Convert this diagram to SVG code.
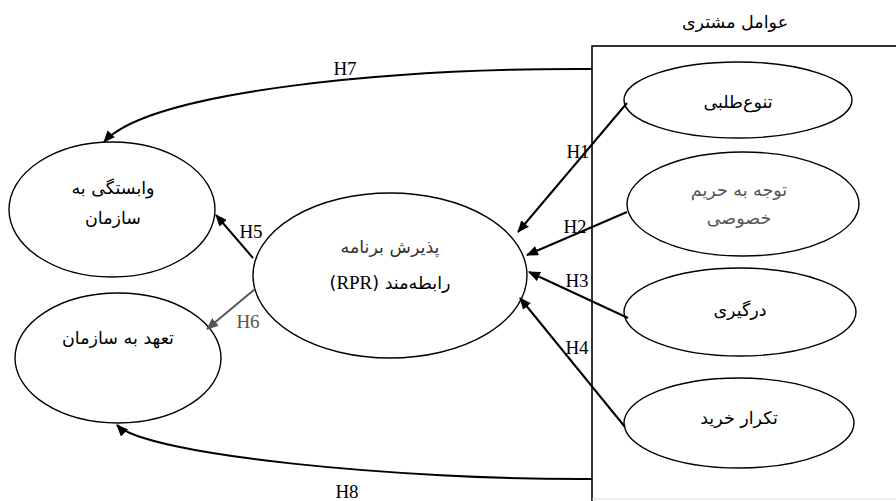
<svg xmlns="http://www.w3.org/2000/svg" width="896" height="501" viewBox="0 0 896 501">
<defs>
<marker id="arr" viewBox="0 0 12 10" refX="11" refY="5" markerWidth="12" markerHeight="10" markerUnits="userSpaceOnUse" orient="auto">
<path d="M0,0 L12,5 L0,10 Z" fill="#000"/>
</marker>
<marker id="arrg" viewBox="0 0 12 10" refX="11" refY="5" markerWidth="12" markerHeight="10" markerUnits="userSpaceOnUse" orient="auto">
<path d="M0,0 L12,5 L0,10 Z" fill="#555"/>
</marker>
</defs>
<style>
.node ellipse{fill:#fff;stroke:#000;stroke-width:1.4}
.fa{font-family:"DejaVu Sans","Noto Sans",sans-serif;font-size:17.5px;fill:#000;text-anchor:middle}
.lat{font-family:"Liberation Serif","Times New Roman",serif;font-size:19px}
.lab{font-family:"Liberation Serif","Times New Roman",serif;font-size:19px;fill:#000;text-anchor:middle}
.edge{fill:none;stroke:#000;stroke-width:2}
</style>
<rect width="896" height="501" fill="#fff"/>

<g id="group-customer-factors">
<rect x="592" y="46" width="320" height="470" fill="none" stroke="#000" stroke-width="1.6"/>
<line x1="592" y1="499" x2="896" y2="499" stroke="#ddd" stroke-width="1"/>
<text class="fa" x="735" y="28" direction="rtl">عوامل مشتری</text>
</g>

<g id="node-variety" class="node">
<ellipse cx="738" cy="100" rx="114" ry="38"/>
<text class="fa" x="738" y="108" direction="rtl">تنوع‌طلبی</text>
</g>
<g id="node-privacy" class="node">
<ellipse cx="743" cy="204" rx="116" ry="52"/>
<text class="fa" x="739" y="196" direction="rtl" style="fill:#555">توجه به حریم</text>
<text class="fa" x="739" y="224" direction="rtl" style="fill:#555">خصوصی</text>
</g>
<g id="node-involvement" class="node">
<ellipse cx="740" cy="312" rx="116" ry="44"/>
<text class="fa" x="740" y="316" direction="rtl">درگیری</text>
</g>
<g id="node-repeat" class="node">
<ellipse cx="739" cy="423" rx="115" ry="45"/>
<text class="fa" x="739" y="424" direction="rtl">تکرار خرید</text>
</g>
<g id="node-rpr" class="node">
<ellipse cx="390" cy="275.5" rx="137" ry="82.5"/>
<text class="fa" x="390" y="253" direction="rtl" style="fill:#333">پذیرش برنامه</text>
<text class="fa" x="390" y="289" direction="rtl">رابطه‌مند (<tspan class="lat">RPR</tspan>)</text>
</g>
<g id="node-attachment" class="node">
<ellipse cx="112" cy="209.5" rx="103" ry="67.5"/>
<text class="fa" x="113" y="194" direction="rtl">وابستگی به</text>
<text class="fa" x="113" y="224" direction="rtl">سازمان</text>
</g>
<g id="node-commitment" class="node">
<ellipse cx="118" cy="358" rx="103" ry="65"/>
<text class="fa" x="118" y="344" direction="rtl">تعهد به سازمان</text>
</g>

<g id="connectors">
<path class="edge" d="M592,69 C400,68 150,90 104,142" marker-end="url(#arr)"/>
<path class="edge" d="M592,479 C400,480 145,455 117,425" marker-end="url(#arr)"/>
<path class="edge" d="M627,103 L518,232" marker-end="url(#arr)"/>
<path class="edge" d="M627,212 L527,255" marker-end="url(#arr)"/>
<path class="edge" d="M628,318 L529,272" marker-end="url(#arr)"/>
<path class="edge" d="M625,427 L520,298" marker-end="url(#arr)"/>
<path class="edge" d="M253,258 L216,215" marker-end="url(#arr)"/>
<path class="edge" d="M255,289 L207,329" style="stroke:#555" marker-end="url(#arrg)"/>
<text class="lab" x="345" y="75">H7</text>
<text class="lab" x="578" y="158">H1</text>
<text class="lab" x="575" y="233">H2</text>
<text class="lab" x="577" y="287">H3</text>
<text class="lab" x="577" y="354">H4</text>
<text class="lab" x="251" y="238">H5</text>
<text class="lab" x="248" y="328" style="fill:#555">H6</text>
<text class="lab" x="347" y="498">H8</text>
</g>
</svg>
